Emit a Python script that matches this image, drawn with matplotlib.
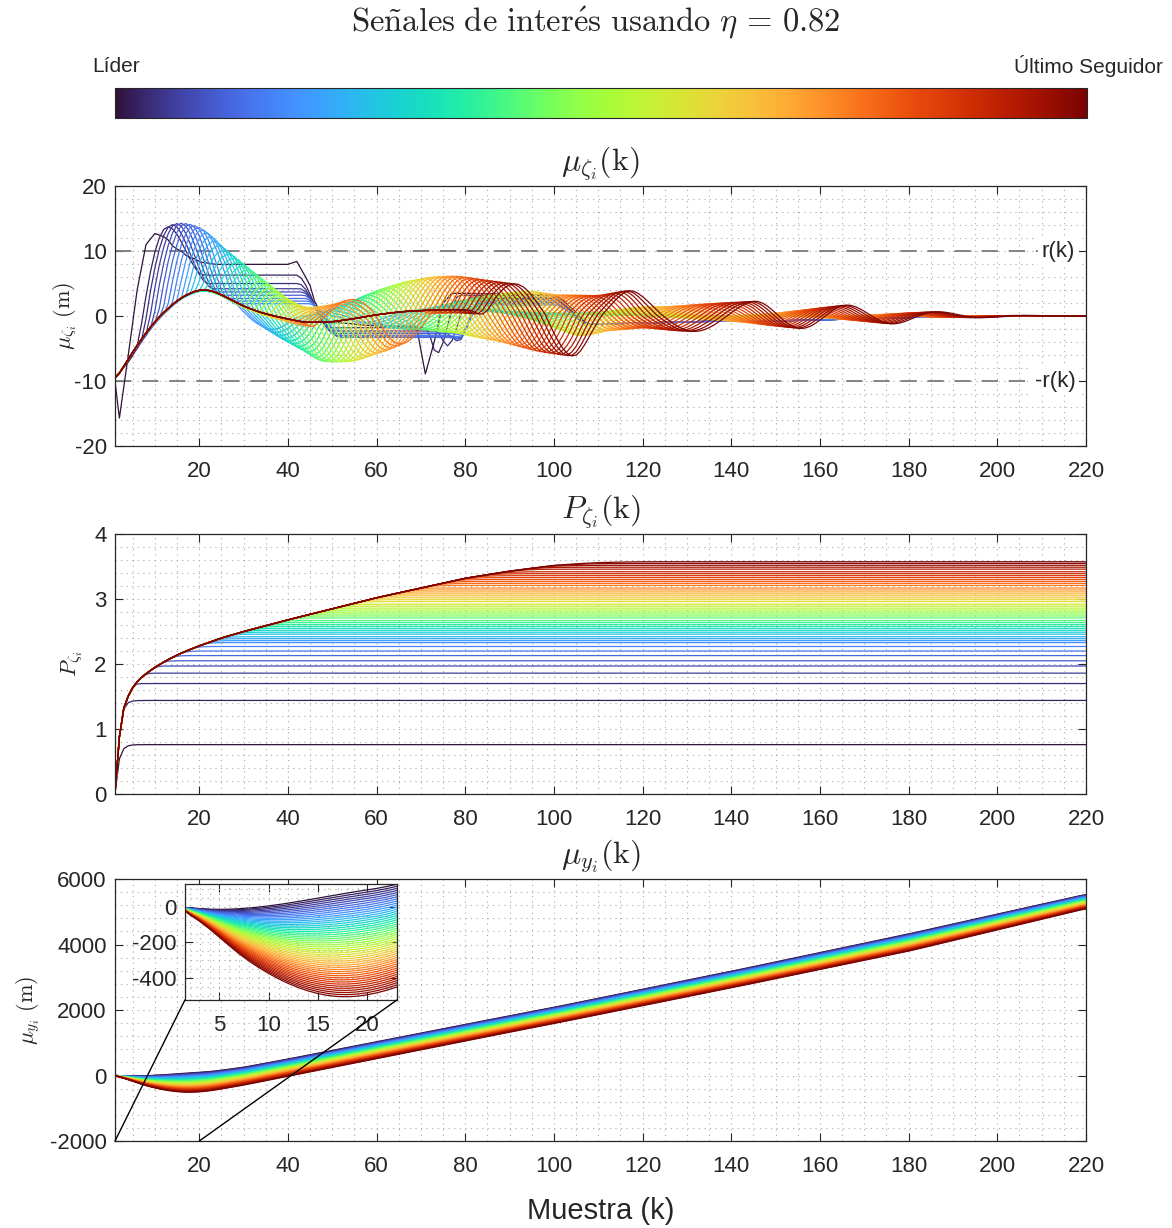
import numpy as np
import matplotlib.pyplot as plt
from matplotlib.patches import ConnectionPatch
from matplotlib.ticker import MultipleLocator
import matplotlib as mpl

plt.rcParams['font.family'] = ['Liberation Sans', 'DejaVu Sans']
plt.rcParams['mathtext.fontset'] = 'cm'
plt.rcParams['axes.unicode_minus'] = False

N = 50                      # leader + followers
k = np.arange(1, 221)

# ---------------- mu_zeta : values ----------------
base_k = [1, 4, 7, 10, 13, 16, 20, 23, 27, 30, 34, 37.5, 41, 44, 50, 55, 60, 66, 72, 78, 85, 95, 110, 130, 220]
base_v = [-10, -6.6, -3.5, -0.8, 1.2, 2.9, 4.1, 3.9, 2.6, 1.5, 0.5, -0.1, -0.6, -1.0, -0.9, -0.4, 0.2, 0.7, 0.9, 1.0, 0.8, 0.5, 0.2, 0, 0]

# spread of the wave above / below the base curve
up_k = [1, 5, 9, 13, 16, 20, 25, 30, 35, 40, 44, 50, 55, 60, 66, 72, 78, 85, 90, 95, 100, 110, 117,
        125, 145, 166, 176, 187, 198, 208, 220]
up_v = [6, 11, 13.5, 12.8, 11.5, 9.7, 7.5, 6.5, 5, 3, 2.2, 2.6, 3.2, 3.8, 4.5, 5.1, 5.2, 4.7, 4.4, 4.2,
        3.2, 3.0, 3.9, 2.8, 2.7, 2.7, 2.3, 1.6, 0.7, 0.35, 0.1]
dn_k = [1, 5, 10, 15, 25, 34, 38, 44, 47, 55, 62, 70, 78, 88, 97, 105, 112, 120, 128, 155, 176,
        198, 208, 220]
dn_v = [4, 4, 2.5, 1.5, 1.5, 2.1, 3.1, 4.5, 6, 6.6, 5.8, 4.1, 4.0, 4.7, 6.0, 6.6, 3.4, 2.2, 2.5, 2.6,
        2.4, 0.7, 0.35, 0.1]
# oscillation period along k
per_k = [1, 117, 121, 141, 146, 220]
per_v = [26, 26, 29, 29, 21, 21]

lead_k = [1, 2, 4, 6, 8, 10, 12, 15, 18, 21, 24, 40, 42, 44, 47, 50, 60, 69, 71, 73, 75, 77,
          100, 103, 108, 140, 200, 220]
lead_v = [-10, -15.7, -6, 4, 11, 12.7, 12.2, 10.3, 9, 8.2, 7.95, 7.95, 8.4, 6, 1, -1, -1.5, -1.6,
          -8.9, -4, 2, 3.5, 3.3, 1.5, -1.2, -0.8, 0, 0]

# first followers: plateau after first crest, level between 50-70, dip near 72-78, level 78-100
dark_plateau = [6.3, 5.0, 4.2, 3.7, 3.2, 2.7, 2.3, 1.9]
dark_mid = [-1.8, -2.3, -2.7, -3.0, -3.2, -3.3, -3.0, -2.6]
dark_dip = [-5.8, -4.6, -3.9, -3.6, -3.5, -3.4, -3.2, -2.9]
dark_late = [3.2, 2.9, 2.7, 2.5, 2.3, 2.1, 1.9, 1.7]

r_level = 10

# ---------------- P_zeta : values ----------------
top_k = [1, 2, 3, 4, 5, 7, 10, 13, 16, 20, 25, 30, 35, 40, 50, 60, 70, 80, 90, 100, 110, 120, 220]
top_v = [0, 1.09, 1.34, 1.52, 1.65, 1.8, 1.95, 2.07, 2.17, 2.28, 2.4, 2.5, 2.59, 2.68, 2.85, 3.02,
         3.17, 3.32, 3.43, 3.52, 3.57, 3.6, 3.6]
p_level = [0.76, 1.44, 1.70, 1.86, 1.97, 2.05, 2.13, 2.20, 2.27, 2.33,
           2.36, 2.39, 2.42, 2.46, 2.49, 2.52, 2.55, 2.58, 2.61, 2.64,
           2.67, 2.71, 2.74, 2.77, 2.80, 2.83, 2.86, 2.89, 2.92, 2.96,
           2.99, 3.02, 3.05, 3.08, 3.11, 3.14, 3.17, 3.21, 3.24, 3.27,
           3.30, 3.33, 3.36, 3.39, 3.42, 3.46, 3.49, 3.52, 3.55, 3.58]

# ---------------- mu_y : leader and last follower ----------------
y_k = [1, 4, 7, 10, 13, 16, 18, 20, 23, 30, 40, 60, 80, 100, 140, 180, 220]
y_lead = [0, -15, -12, 5, 30, 60, 80, 95, 125, 250, 500, 1030, 1560, 2080, 3180, 4320, 5530]
y_last = [0, -120, -270, -380, -460, -505, -510, -500, -455, -290, -20, 520, 1060, 1590, 2680, 3800, 5100]


def ease(xq, xs, ys):
    xs = np.asarray(xs, float)
    ys = np.asarray(ys, float)
    j = np.clip(np.searchsorted(xs, xq, side='right') - 1, 0, len(xs) - 2)
    t = np.clip((xq - xs[j]) / (xs[j + 1] - xs[j]), 0, 1)
    t = t * t * (3 - 2 * t)
    return ys[j] + (ys[j + 1] - ys[j]) * t


def smooth(y, w):
    ker = np.hanning(w + 2)[1:-1]
    ker /= ker.sum()
    p = w // 2
    return np.convolve(np.pad(y, p, mode='edge'), ker, mode='valid')


# build mu_zeta curves
B = smooth(np.interp(k, base_k, base_v), 5)
Aup = smooth(np.interp(k, up_k, up_v), 5)
Adn = smooth(np.interp(k, dn_k, dn_v), 5)
Pk = np.interp(k, per_k, per_v)
Phi = 2 * np.pi * (k[0] / 26 + np.concatenate([[0], np.cumsum(1 / Pk[1:])]))
ramp = np.clip((k - 1) / 2, 0, 1)

mu = []
for i in range(N):
    if i == 0:
        mu.append(ease(k, lead_k, lead_v))
        continue
    th = Phi - 2 * np.pi * (1.1 * i + 5) / 26
    c = 10 + 2.1 * i
    z0 = 5 + 1.1 * i
    z = z0 + 26 * max(0, round((c - 30 - z0) / 26))
    g = np.clip((k - (z - 4)) / 6, 0, 1)
    g = g * g * (3 - 2 * g)
    dec = np.exp(-(np.maximum(k - c, 0) / (10 + 1.4 * i)) ** 2)
    sn = np.sin(th)
    y = B + np.where(sn > 0, Aup, Adn) * g * dec * ramp * sn
    if i <= 8:
        j = i - 1
        tc = int(round(11.5 + 1.1 * i))
        dt = min(71.2 + 2.4 * i, 78.5)
        xs = [tc, tc + 8, 41.5 + 0.4 * i, 49 + 0.5 * i, dt - 2.5, dt, dt + 5, 100, 108, 140, 200, 220]
        ys = [y[tc - 1], dark_plateau[j], dark_plateau[j], dark_mid[j], dark_mid[j], dark_dip[j],
              dark_late[j], dark_late[j], -1.2, -0.8, 0, 0]
        post = ease(k, xs, ys)
        y = np.where(k >= tc, post, y)
    mu.append(y)

# P_zeta curves
U = smooth(np.interp(k, top_k, top_v), 3)
U[0] = 0
Pz = []
s = 0.02
for i in range(N):
    a = p_level[i] * (1 - np.exp(-(k - 1) / 0.8))
    v = -s * np.log(np.exp(-a / s) + np.exp(-U / s))
    Pz.append(np.maximum(v, 0))

# mu_y curves
yl = smooth(np.interp(k, y_k, y_lead), 5)
yz = smooth(np.interp(k, y_k, y_last), 5)
yl[0] = 0
yz[0] = 0
muy = [yl + (i / (N - 1)) * (yz - yl) for i in range(N)]

colors = plt.get_cmap('turbo')(np.linspace(0, 1, N))
TXT = '#262626'
grid_kw = dict(which='both', ls=(0, (1, 4)), color='#a8a8a8', lw=0.8)


def style(ax, xmin=5, ymin=None):
    ax.tick_params(which='major', direction='in', top=True, right=True, length=6, width=0.8,
                   labelsize=16, colors=TXT)
    ax.tick_params(axis='x', which='major', pad=11)
    ax.tick_params(axis='y', which='major', pad=6)
    ax.tick_params(which='minor', length=0, top=True, right=True)
    ax.xaxis.set_minor_locator(MultipleLocator(xmin))
    if ymin:
        ax.yaxis.set_minor_locator(MultipleLocator(ymin))
    ax.grid(**grid_kw)
    ax.set_axisbelow(True)
    for sp in ax.spines.values():
        sp.set_color(TXT)
        sp.set_linewidth(0.9)


fig = plt.figure(figsize=(11.72, 12.28), dpi=100)

fig.text(0.508, 0.981, r'$\mathrm{Se\tilde{n}ales\ de\ inter\acute{e}s\ usando}\ \eta\,=\,0.82$',
         ha='center', va='center', fontsize=23.5, color=TXT)

cax = fig.add_axes([0.0981, 0.9039, 0.8294, 0.0244])
cb = mpl.colorbar.ColorbarBase(cax, cmap=plt.get_cmap('turbo'), orientation='horizontal')
cb.set_ticks([])
cb.outline.set_edgecolor(TXT)
fig.text(0.0785, 0.946, 'Líder', ha='left', va='center', fontsize=15, color=TXT)
fig.text(0.9923, 0.946, 'Último Seguidor', ha='right', va='center', fontsize=15, color=TXT)

# ---- top: mu_zeta ----
ax1 = fig.add_axes([0.0981, 0.6368, 0.8285, 0.2117])
for i in range(N):
    ax1.plot(k, mu[i], color=colors[i], lw=0.9)
for lvl, lab in [(r_level, 'r(k)'), (-r_level, '-r(k)')]:
    ax1.axhline(lvl, color='#7a7a7a', lw=1.3, ls=(0, (9, 6)), zorder=1.5)
    ax1.text(217.6, lvl, lab, ha='right', va='center', fontsize=16, color=TXT,
             bbox=dict(facecolor='white', edgecolor='none', pad=2.5), zorder=3)
ax1.set_xlim(1, 220)
ax1.set_ylim(-20, 20)
ax1.set_xticks(np.arange(20, 221, 20))
ax1.set_yticks([-20, -10, 0, 10, 20])
style(ax1, 5, 2)
ax1.set_title(r'$\mu_{\zeta_i}(\mathrm{k})$', fontsize=23, color=TXT, pad=11)
ax1.set_ylabel(r'$\mu_{\zeta_i}\ \mathrm{(m)}$', fontsize=16, color=TXT)
ax1.yaxis.set_label_coords(-0.0375, 0.5)

# ---- middle: P_zeta ----
ax2 = fig.add_axes([0.0981, 0.3534, 0.8285, 0.2117])
for i in range(N):
    ax2.plot(k, Pz[i], color=colors[i], lw=0.9)
ax2.set_xlim(1, 220)
ax2.set_ylim(0, 4)
ax2.set_xticks(np.arange(20, 221, 20))
ax2.set_yticks([0, 1, 2, 3, 4])
style(ax2, 5, 0.2)
ax2.set_title(r'$P_{\zeta_i}(\mathrm{k})$', fontsize=23, color=TXT, pad=11)
ax2.set_ylabel(r'$P_{\zeta_i}$', fontsize=16, color=TXT)
ax2.yaxis.set_label_coords(-0.031, 0.5)

# ---- bottom: mu_y ----
ax3 = fig.add_axes([0.0981, 0.0708, 0.8285, 0.2134])
for i in range(N):
    ax3.plot(k, muy[i], color=colors[i], lw=1.0)
ax3.set_xlim(1, 220)
ax3.set_ylim(-2000, 6000)
ax3.set_xticks(np.arange(20, 221, 20))
ax3.set_yticks([-2000, 0, 2000, 4000, 6000])
style(ax3, 5, 400)
ax3.set_title(r'$\mu_{y_i}(\mathrm{k})$', fontsize=23, color=TXT, pad=11)
ax3.set_ylabel(r'$\mu_{y_i}\ \mathrm{(m)}$', fontsize=16, color=TXT)
ax3.yaxis.set_label_coords(-0.075, 0.5)
ax3.set_xlabel('Muestra (k)', fontsize=21, color=TXT, labelpad=14)

# inset
ins = fig.add_axes([0.1578, 0.1857, 0.1809, 0.0945])
for i in range(N):
    ins.plot(k, muy[i], color=colors[i], lw=0.9)
ins.set_xlim(1.5, 23)
ins.set_ylim(-525, 130)
ins.set_xticks([5, 10, 15, 20])
ins.set_yticks([-400, -200, 0])
style(ins, 1, 50)

for xa, xb in [(1.5, 1), (23, 20)]:
    con = ConnectionPatch(xyA=(xa, -525), coordsA=ins.transData,
                          xyB=(xb, -2000), coordsB=ax3.transData, color='black', lw=1.0)
    fig.add_artist(con)

fig.savefig('out.png', dpi=100)
